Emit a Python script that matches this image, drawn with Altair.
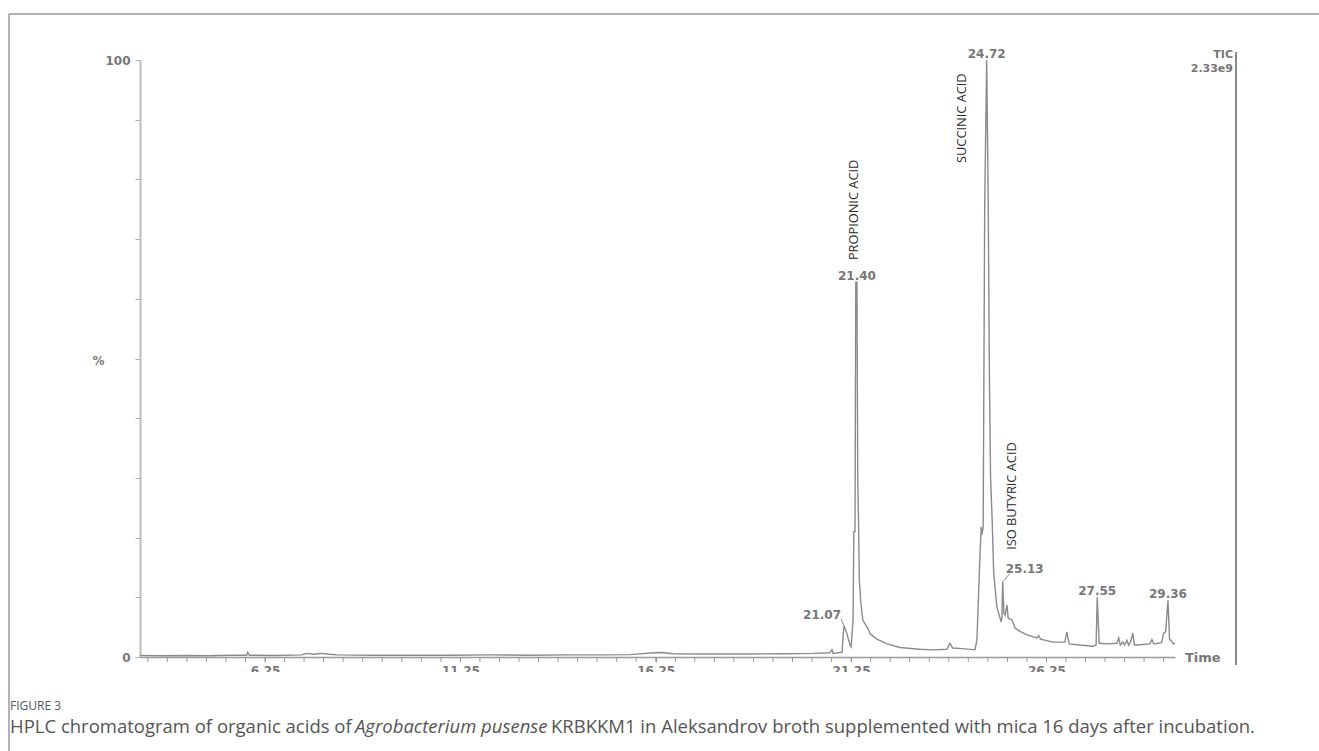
import altair as alt
import pandas as pd

# ---- chromatogram trace (retention time in min, relative abundance in %) ----
time_min = [3.05, 3.6, 4.2, 4.8, 5.4, 5.78, 5.81, 5.85, 6.5, 7.2, 7.3, 7.5, 7.7, 7.9, 8.1,
            9.0, 10.0, 11.0, 12.0, 13.0, 14.0, 15.0, 15.6, 16.2, 16.4, 16.7, 17.5, 18.5,
            19.5, 20.3, 20.7, 20.76, 20.79, 21.02, 21.05, 21.07, 21.14, 21.22, 21.25,
            21.30, 21.32, 21.35, 21.37, 21.40, 21.42, 21.44, 21.46, 21.50, 21.55, 21.66,
            21.75, 21.91, 22.17, 22.5, 23.0, 23.35, 23.7, 23.78, 23.85, 24.1, 24.42,
            24.47, 24.55, 24.58, 24.60, 24.63, 24.67, 24.72, 24.76, 24.79, 24.82, 24.86,
            24.9, 24.98, 25.09, 25.11, 25.13, 25.16, 25.19, 25.24, 25.27, 25.37, 25.45,
            25.6, 25.75, 26.01, 26.05, 26.1, 26.42, 26.72, 26.77, 26.83, 27.1, 27.44,
            27.52, 27.55, 27.60, 27.8, 28.05, 28.10, 28.14, 28.21, 28.25, 28.31, 28.35,
            28.41, 28.46, 28.5, 28.57, 28.9, 28.95, 29.0, 29.2, 29.25, 29.30, 29.36,
            29.40, 29.43, 29.5, 29.54]
intensity_pct = [0.25, 0.2, 0.25, 0.2, 0.3, 0.3, 0.8, 0.3, 0.25, 0.35, 0.6, 0.45, 0.6, 0.45, 0.35,
                 0.3, 0.3, 0.3, 0.35, 0.3, 0.35, 0.35, 0.4, 0.7, 0.75, 0.55, 0.5, 0.5,
                 0.55, 0.6, 0.7, 1.2, 0.6, 0.8, 4.0, 5.2, 4.0, 2.0, 1.7,
                 6.2, 21.0, 21.0, 62.8, 62.8, 30.0, 23.0, 13.0, 9.0, 6.2, 5.0,
                 3.8, 3.0, 2.2, 1.6, 1.3, 1.2, 1.3, 2.3, 1.5, 1.4, 1.2,
                 2.8, 17.4, 21.8, 20.5, 21.8, 76.0, 100.0, 76.0, 47.0, 30.0, 23.0,
                 14.0, 8.4, 5.9, 6.5, 12.6, 7.4, 7.0, 8.7, 6.5, 6.2, 4.8,
                 4.2, 3.7, 3.2, 3.6, 3.0, 2.5, 2.5, 4.2, 2.2, 2.0, 1.8,
                 2.0, 10.0, 2.3, 2.2, 2.3, 3.2, 2.0, 2.5, 2.0, 2.8, 2.0,
                 2.6, 4.0, 2.0, 2.0, 2.2, 2.9, 2.2, 2.4, 4.0, 4.2, 9.5,
                 3.0, 2.8, 2.2, 2.3]

# ---- peak retention-time labels ----
peak_labels = ["21.07", "21.40", "24.72", "25.13", "27.55", "29.36"]
peak_time = [21.07, 21.40, 24.72, 25.13, 27.55, 29.36]
peak_height = [5.2, 62.8, 100.0, 12.6, 10.0, 9.5]

# ---- compound annotations ----
compound_names = ["PROPIONIC ACID", "SUCCINIC ACID", "ISO BUTYRIC ACID"]
compound_time = [21.40, 24.72, 25.13]
compound_height = [62.8, 100.0, 12.6]

x_label_values = [6.25, 11.25, 16.25, 21.25, 26.25]
x_minor_ticks = [3.25 + 0.5 * i for i in range(53)]
y_tick_values = [0, 10, 20, 30, 40, 50, 60, 70, 80, 90, 100]

caption_tag = "FIGURE 3"
caption_1 = "HPLC chromatogram of organic acids of"
caption_2 = "Agrobacterium pusense"
caption_3 = "KRBKKM1 in Aleksandrov broth supplemented with mica 16 days after incubation."

W, H = 1035, 597
GRAY = "#8a8a8a"
LBL = "#777777"
NUMFONT = "DejaVu Sans"
CAPFONT = "Open Sans"

trace = pd.DataFrame({"t": time_min, "v": intensity_pct})
peaks = pd.DataFrame({"t": peak_time, "v": peak_height, "lab": peak_labels})
comps = pd.DataFrame({"t": compound_time, "v": compound_height, "name": compound_names})
minor = pd.DataFrame({"t": x_minor_ticks})
one = pd.DataFrame({"k": [0]})

xscale = alt.Scale(domain=[3.05, 29.54], nice=False, zero=False)
yscale = alt.Scale(domain=[0, 100], nice=False)

line = alt.Chart(trace).mark_line(color=GRAY, strokeWidth=1.4).encode(
    x=alt.X("t:Q", scale=xscale,
            axis=alt.Axis(values=x_label_values, format=".2f", title=None, grid=False,
                          tickSize=5, tickColor="#9a9a9a", domainColor="#9a9a9a", domainWidth=1.5,
                          labelPadding=3, labelFont=NUMFONT, labelFontSize=12, labelFontWeight="bold",
                          labelColor=LBL, labelOverlap=False, labelFlush=False)),
    y=alt.Y("v:Q", scale=yscale,
            axis=alt.Axis(values=y_tick_values,
                          labelExpr="datum.value == 100 ? '100' : (datum.value == 0 ? '0' : '')",
                          title="%", titleAngle=0, titleX=-36, titleY=300, titleAlign="right",
                          titleBaseline="middle", titleFont=NUMFONT, titleFontSize=12,
                          titleFontWeight="bold", titleColor=LBL,
                          grid=False, tickSize=5, tickColor="#aaaaaa", domainColor="#bbbbbb",
                          domainWidth=2, labelPadding=5, labelFont=NUMFONT, labelFontSize=12,
                          labelFontWeight="bold", labelColor=LBL)),
)

minor_ticks = alt.Chart(minor).mark_rule(color="#9a9a9a", strokeWidth=1).encode(
    x=alt.X("t:Q", scale=xscale), y=alt.value(H), y2=alt.value(H + 5))

base_peaks = alt.Chart(peaks)
enc_peak = dict(x=alt.X("t:Q", scale=xscale), y=alt.Y("v:Q", scale=yscale), text="lab:N")
lbl_style = dict(font=NUMFONT, fontSize=12, fontWeight="bold", color=LBL, baseline="bottom")

peak_center = base_peaks.transform_filter(
    alt.FieldOneOfPredicate(field="lab", oneOf=["21.40", "24.72", "27.55", "29.36"])
).mark_text(dy=1, **lbl_style).encode(**enc_peak)
peak_left = base_peaks.transform_filter(alt.datum.lab == "21.07").mark_text(
    dx=-22, dy=-4, **lbl_style).encode(**enc_peak)
peak_right = base_peaks.transform_filter(alt.datum.lab == "25.13").mark_text(
    dx=22, dy=-6, **lbl_style).encode(**enc_peak)
lead_left = base_peaks.transform_filter(alt.datum.lab == "21.07").mark_rule(
    color=GRAY, strokeWidth=1, x2Offset=-3, y2Offset=-7).encode(
    x=alt.X("t:Q", scale=xscale), y=alt.Y("v:Q", scale=yscale), x2="t:Q", y2="v:Q")
lead_right = base_peaks.transform_filter(alt.datum.lab == "25.13").mark_rule(
    color=GRAY, strokeWidth=1, x2Offset=7, y2Offset=-8).encode(
    x=alt.X("t:Q", scale=xscale), y=alt.Y("v:Q", scale=yscale), x2="t:Q", y2="v:Q")

comp_offsets = {"PROPIONIC ACID": (-3, -22), "SUCCINIC ACID": (-25, 103), "ISO BUTYRIC ACID": (9, -32)}
comp_layers = []
for nm, (ox, oy) in comp_offsets.items():
    comp_layers.append(
        alt.Chart(comps).transform_filter(alt.datum.name == nm).mark_text(
            angle=270, align="left", baseline="middle", font=CAPFONT, fontSize=12.8,
            color="#2a2a2a", xOffset=ox, yOffset=oy).encode(
            x=alt.X("t:Q", scale=xscale), y=alt.Y("v:Q", scale=yscale), text="name:N"))

deco = alt.Chart(one)
frame_top = deco.mark_rule(color="#9a9a9a", strokeWidth=1.5).encode(
    x=alt.value(-131), x2=alt.value(1179), y=alt.value(-46))
frame_left = deco.mark_rule(color="#9a9a9a", strokeWidth=1.5).encode(
    x=alt.value(-131), y=alt.value(-46), y2=alt.value(691))
tic_line = deco.mark_rule(color="#8a8a8a", strokeWidth=2).encode(
    x=alt.value(1096), y=alt.value(-8), y2=alt.value(605))
tic_txt = deco.mark_text(align="right", baseline="middle", font=NUMFONT, fontSize=11,
                         fontWeight="bold", color=LBL).encode(
    x=alt.value(1093), y=alt.value(-5), text=alt.value("TIC"))
tic_val = deco.mark_text(align="right", baseline="middle", font=NUMFONT, fontSize=11,
                         fontWeight="bold", color=LBL).encode(
    x=alt.value(1093), y=alt.value(9), text=alt.value("2.33e9"))
time_txt = deco.mark_text(align="left", baseline="middle", font=NUMFONT, fontSize=13,
                          fontWeight="bold", color=LBL).encode(
    x=alt.value(1045), y=alt.value(598), text=alt.value("Time"))
mask = deco.mark_rect(color="white").encode(
    x=alt.value(-120), x2=alt.value(1040), y=alt.value(612), y2=alt.value(634))
cap_tag = deco.mark_text(align="left", baseline="middle", font=CAPFONT, fontSize=12,
                         color="#4a5868").encode(
    x=alt.value(-130), y=alt.value(646), text=alt.value(caption_tag))
cap_1 = deco.mark_text(align="left", baseline="middle", font=CAPFONT, fontSize=18.5,
                       color="#555555").encode(
    x=alt.value(-130), y=alt.value(667), text=alt.value(caption_1))
cap_2 = deco.mark_text(align="left", baseline="middle", font=CAPFONT, fontSize=18.5,
                       fontStyle="italic", color="#555555").encode(
    x=alt.value(215), y=alt.value(667), text=alt.value(caption_2))
cap_3 = deco.mark_text(align="left", baseline="middle", font=CAPFONT, fontSize=18.5,
                       color="#555555").encode(
    x=alt.value(411), y=alt.value(667), text=alt.value(caption_3))

chart = alt.layer(
    line, minor_ticks, peak_center, peak_left, peak_right, lead_left, lead_right, *comp_layers,
    frame_top, frame_left, tic_line, tic_txt, tic_val, time_txt, mask, cap_tag, cap_1, cap_2, cap_3
).properties(
    width=W, height=H,
    padding={"left": 140, "top": 60, "right": 144, "bottom": 94},
    autosize=alt.AutoSizeParams(type="none"),
    background="white",
).configure_view(stroke=None)

chart.save("out.html", embed_options={"renderer": "svg", "actions": False})
